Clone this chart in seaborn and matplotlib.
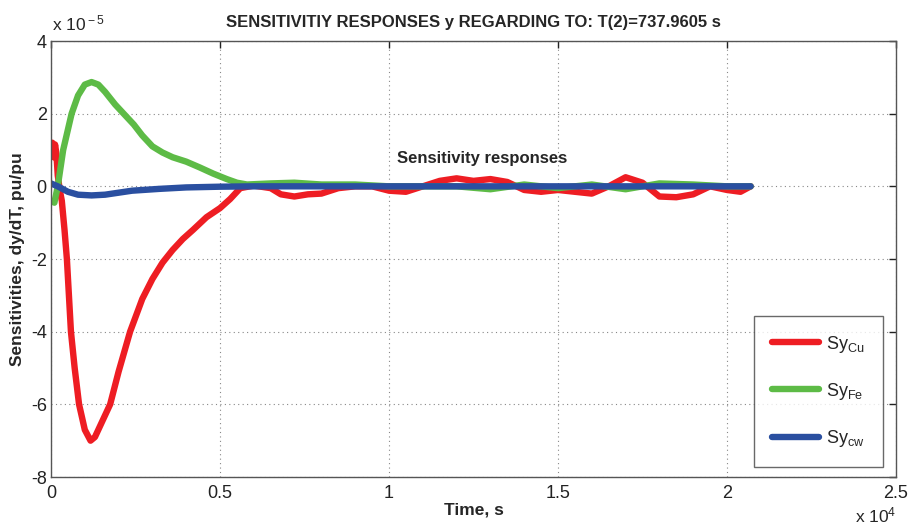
import numpy as np
import pandas as pd
import matplotlib
matplotlib.use("Agg")
import matplotlib.pyplot as plt
import seaborn as sns

# time in units of 10^4 s, sensitivities in units of 10^-5
t_cu = [0, 0.004, 0.008, 0.012, 0.016, 0.02, 0.026, 0.032, 0.04, 0.047, 0.059, 0.07, 0.083, 0.10, 0.117,
        0.13, 0.15, 0.175, 0.20, 0.234, 0.27, 0.30, 0.33, 0.36, 0.39, 0.42, 0.46, 0.50, 0.53, 0.56,
        0.60, 0.65, 0.68, 0.72, 0.76, 0.80, 0.85, 0.90, 0.95, 1.00, 1.05, 1.10, 1.15, 1.20, 1.25,
        1.30, 1.35, 1.40, 1.45, 1.50, 1.55, 1.60, 1.65, 1.70, 1.75, 1.80, 1.85, 1.90, 1.95, 2.00,
        2.04, 2.07]
s_cu = [1.0, 1.2, 0.8, 1.15, 0.9, 0.3, -0.1, -0.4, -1.2, -2.0, -4.0, -5.0, -6.0, -6.7, -7.0,
        -6.9, -6.5, -6.0, -5.1, -4.0, -3.1, -2.55, -2.1, -1.75, -1.45, -1.2, -0.85, -0.6, -0.35, -0.05,
        0.02, -0.05, -0.22, -0.28, -0.22, -0.2, -0.05, 0.0, 0.0, -0.12, -0.15, 0.0, 0.15, 0.22, 0.15,
        0.2, 0.12, -0.1, -0.15, -0.1, -0.15, -0.2, 0.0, 0.25, 0.1, -0.28, -0.3, -0.22, 0.0, -0.1,
        -0.15, 0.0]

t_fe = [0, 0.01, 0.02, 0.036, 0.061, 0.08, 0.10, 0.12, 0.14, 0.16, 0.19, 0.22, 0.245, 0.27,
        0.30, 0.33, 0.36, 0.40, 0.44, 0.48, 0.52, 0.55, 0.58, 0.65, 0.72, 0.80, 0.90, 1.00, 1.10,
        1.20, 1.30, 1.40, 1.50, 1.60, 1.70, 1.80, 1.90, 2.00, 2.07]
s_fe = [-0.4, -0.45, 0.0, 1.0, 2.0, 2.5, 2.8, 2.87, 2.8, 2.6, 2.25, 1.95, 1.7, 1.4,
        1.1, 0.93, 0.8, 0.68, 0.52, 0.35, 0.2, 0.1, 0.05, 0.08, 0.1, 0.05, 0.05, 0.0, 0.0,
        0.0, -0.08, 0.05, -0.05, 0.05, -0.08, 0.08, 0.05, 0.0, 0.0]

t_cw = [0, 0.02, 0.05, 0.08, 0.12, 0.16, 0.24, 0.32, 0.40, 0.50, 0.60, 1.00, 1.50, 2.07]
s_cw = [0.08, 0.0, -0.15, -0.23, -0.25, -0.23, -0.12, -0.07, -0.03, -0.01, 0.0, 0.0, 0.0, 0.0]

labels = [r'Sy$_{\rm Cu}$', r'Sy$_{\rm Fe}$', r'Sy$_{\rm cw}$']
colors = ['#EE1D23', '#5DBB46', '#2A4FA0']

df = pd.concat([
    pd.DataFrame({'t': t_cu, 's': s_cu, 'series': labels[0]}),
    pd.DataFrame({'t': t_fe, 's': s_fe, 'series': labels[1]}),
    pd.DataFrame({'t': t_cw, 's': s_cw, 'series': labels[2]}),
], ignore_index=True)

sns.set_theme(style='white')
plt.rcParams['font.family'] = ['Liberation Sans', 'DejaVu Sans']
plt.rcParams['mathtext.fontset'] = 'custom'
plt.rcParams['mathtext.rm'] = 'Liberation Sans'
plt.rcParams['mathtext.it'] = 'Liberation Sans:italic'
plt.rcParams['mathtext.bf'] = 'Liberation Sans:bold'

fig = plt.figure(figsize=(9.12, 5.25), dpi=100)
ax = fig.add_axes([51/912, 48/525, 845/912, 436/525])

sns.lineplot(data=df, x='t', y='s', hue='series', palette=dict(zip(labels, colors)),
             estimator=None, sort=False, lw=4.6, ax=ax, legend=False)

ax.set_xlim(0, 2.5)
ax.set_ylim(-8, 4)
ax.set_xticks([0, 0.5, 1, 1.5, 2, 2.5])
ax.set_xticklabels(['0', '0.5', '1', '1.5', '2', '2.5'])
ax.set_yticks([-8, -6, -4, -2, 0, 2, 4])
ax.set_yticklabels(['-8', '-6', '-4', '-2', '0', '2', '4'])
ax.grid(True, linestyle=(0, (1, 3)), color='#888888', linewidth=0.8)
ax.tick_params(direction='in', length=5, width=1, top=True, right=True,
               labelsize=13, colors='#222222', pad=3)
ax.tick_params(axis='x', pad=6)
for sp in ax.spines.values():
    sp.set_color('#555555')
    sp.set_linewidth(1.0)

ax.set_xlabel('Time, s', fontsize=12.5, fontweight='bold', labelpad=0)
ax.set_ylabel('Sensitivities, dy/dT, pu/pu', fontsize=12.5, fontweight='bold', labelpad=4)
ax.set_title('SENSITIVITIY RESPONSES y REGARDING TO: T(2)=737.9605 s',
             fontsize=12, fontweight='bold', pad=10)

ax.text(1.025, 0.65, 'Sensitivity responses', fontsize=12, fontweight='bold')

fig.text(52/912, 1 - 30/525, r'x 10$^{\rm -5}$', fontsize=12.5, va='baseline', ha='left')
fig.text(855/912, 1 - 522/525, r'x 10$^{\rm 4}$', fontsize=12.5, va='baseline', ha='left')

handles = [plt.Line2D([], [], color=c, lw=4.6) for c in colors]
leg = ax.legend(handles, labels, loc='lower right', fontsize=13, frameon=True, fancybox=False,
                edgecolor='#444444', handlelength=2.6, labelspacing=1.45,
                borderpad=1.0, handletextpad=0.4, borderaxespad=0.0)
leg.get_frame().set_linewidth(1.0)
leg.set_bbox_to_anchor(((883 - 51) / 845, 10 / 436), transform=ax.transAxes)

fig.savefig('out.png', dpi=100)
